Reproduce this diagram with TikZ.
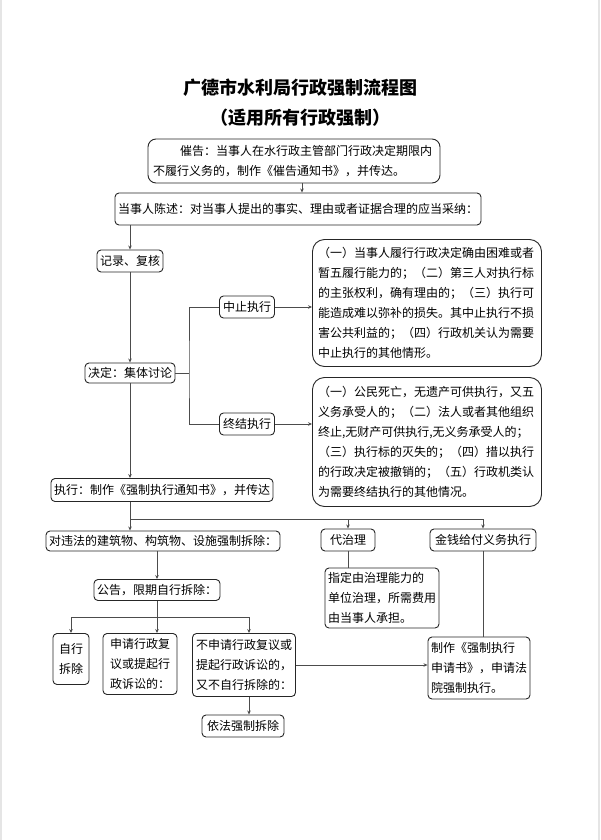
\documentclass[tikz,border=0pt]{standalone}
\usepackage{fontspec}
\setmainfont{Noto Sans CJK SC}
\usetikzlibrary{arrows.meta}

\begin{document}
\begin{tikzpicture}[x=1pt, y=-1pt,
  box/.style={draw=black!85, line width=0.9pt, rounded corners=4pt, inner xsep=3pt, inner ysep=0pt,
    font=\fontsize{12}{20}\selectfont, minimum height=22pt},
  bigbox/.style={box, rounded corners=12pt, align=left, text width=218pt, minimum width=229pt},
  link/.style={draw=black!70, line width=0.8pt},
  arr/.style={link, -{Stealth[length=4pt, width=3.5pt]}}]
\useasboundingbox (0,0) rectangle (600,840);
\draw[gray!20, line width=2pt] (1,0) -- (1,840);
\draw[gray!20, line width=2pt] (599,0) -- (599,840);
\node (title) at (300,88) {\fontsize{18}{22}\selectfont\bfseries 广德市水利局行政强制流程图};
\node (subtitle) at (300,118) {\fontsize{18}{22}\selectfont\bfseries （适用所有行政强制）};
\node[box, rounded corners=8pt, align=left, text width=282pt, minimum width=292pt, minimum height=44pt] (warn) at (294,161) {\hspace*{27pt}催告：当事人在水行政主管部门行政决定期限内\\不履行义务的，制作《催告通知书》，并传达。};
\node[box, minimum width=360pt, minimum height=32pt] (state) at (298,209) {当事人陈述：对当事人提出的事实、理由或者证据合理的应当采纳：};
\node[box, minimum width=64pt] (record) at (130,261) {记录、复核};
\node[box, minimum width=89pt, minimum height=20pt] (decide) at (130,373) {决定：集体讨论};
\node[box, minimum width=55pt] (suspend) at (247,307) {中止执行};
\node[box, minimum width=55pt] (terminate) at (247,424) {终结执行};
\node[bigbox, minimum height=127pt] (suspnote) at (427,303) {（一）当事人履行行政决定确由困难或者\\暂五履行能力的；（二）第三人对执行标\\的主张权利，确有理由的；（三）执行可\\能造成难以弥补的损失。其中止执行不损\\害公共利益的；（四）行政机关认为需要\\中止执行的其他情形。};
\node[bigbox, minimum height=129pt] (termnote) at (427,442) {（一）公民死亡，无遗产可供执行，又五\\义务承受人的；（二）法人或者其他组织\\\mbox{终止,无财产可供执行,无义务承受人的；}\\（三）执行标的灭失的；（四）措以执行\\的行政决定被撤销的；（五）行政机类认\\为需要终结执行的其他情况。};
\node[box, minimum width=217pt, minimum height=23pt] (exec) at (162,490) {执行：制作《强制执行通知书》，并传达};
\coordinate (split) at (130,519);
\node[box, minimum width=225pt, minimum height=20pt] (demolish) at (163,541) {对违法的建筑物、构筑物、设施强制拆除：};
\node[box, minimum width=54pt] (substitute) at (348,540) {代治理};
\node[box, minimum width=106pt] (money) at (483,540) {金钱给付义务执行};
\node[box, align=left, minimum width=113pt, minimum height=60pt] (designate) at (382,598) {指定由治理能力的\\单位治理，所需费用\\由当事人承担。};
\node[box, minimum width=119pt, minimum height=21pt] (notice) at (157,590) {公告，限期自行拆除：};
\coordinate (split2) at (157,617);
\coordinate (split2r) at (249,617);
\node[box, align=center, minimum width=36pt, minimum height=51pt] (self) at (71,659) {自行\\拆除};
\node[box, align=left, minimum width=74pt, minimum height=61pt] (review) at (140,664) {申请行政复\\议或提起行\\政诉讼的：};
\node[box, align=left, minimum width=103pt, minimum height=63pt] (nonapply) at (244,665) {不申请行政复议或\\提起行政诉讼的，\\又不自行拆除的：};
\node[box, minimum width=82pt] (enforce) at (243,726) {依法强制拆除};
\node[box, align=left, minimum width=100pt, minimum height=62pt] (apply) at (479,668) {制作《强制执行\\申请书》，申请法\\院强制执行。};
\coordinate (warnout) at ([xshift=8pt]warn.south);
\coordinate (fork) at (189,373);
\draw[arr] (warnout) -- (warnout |- state.north);
\draw[arr] (state.south -| record.north) -- (record.north);
\draw[arr] (record.south) -- (decide.north);
\draw[arr] (decide.south) -- (decide.south |- exec.north);
\draw[link] (decide.east) -- (fork);
\draw[link] (suspend.west) -| (fork) |- (terminate.west);
\draw[arr] (suspend.east) -- (suspend.east -| suspnote.west);
\draw[arr] (terminate.east) -- (terminate.east -| termnote.west);
\draw[link] (exec.south -| split) -- (split) -- (split -| money.north);
\draw[arr] (split) -- (split |- demolish.north);
\draw[arr] (split -| substitute.north) -- (substitute.north);
\draw[arr] (split -| money.north) -- (money.north);
\draw[arr] (demolish.south -| notice.north) -- (notice.north);
\draw[link] (notice.south) -- (split2);
\draw[link] (split2 -| self.north) -- (split2r);
\draw[arr] (split2 -| self.north) -- (self.north);
\draw[arr] (split2) -- (split2 |- review.north);
\draw[arr] (split2r) -- (split2r |- nonapply.north);
\draw[arr] (split2r |- nonapply.south) -- (split2r |- enforce.north);
\draw[arr] (nonapply.east) -- (nonapply.east -| apply.west);
\draw[link] (substitute.south) -- (substitute.south |- designate.north);
\draw[link] (money.south) -- (money.south |- apply.north);
\end{tikzpicture}
\end{document}
